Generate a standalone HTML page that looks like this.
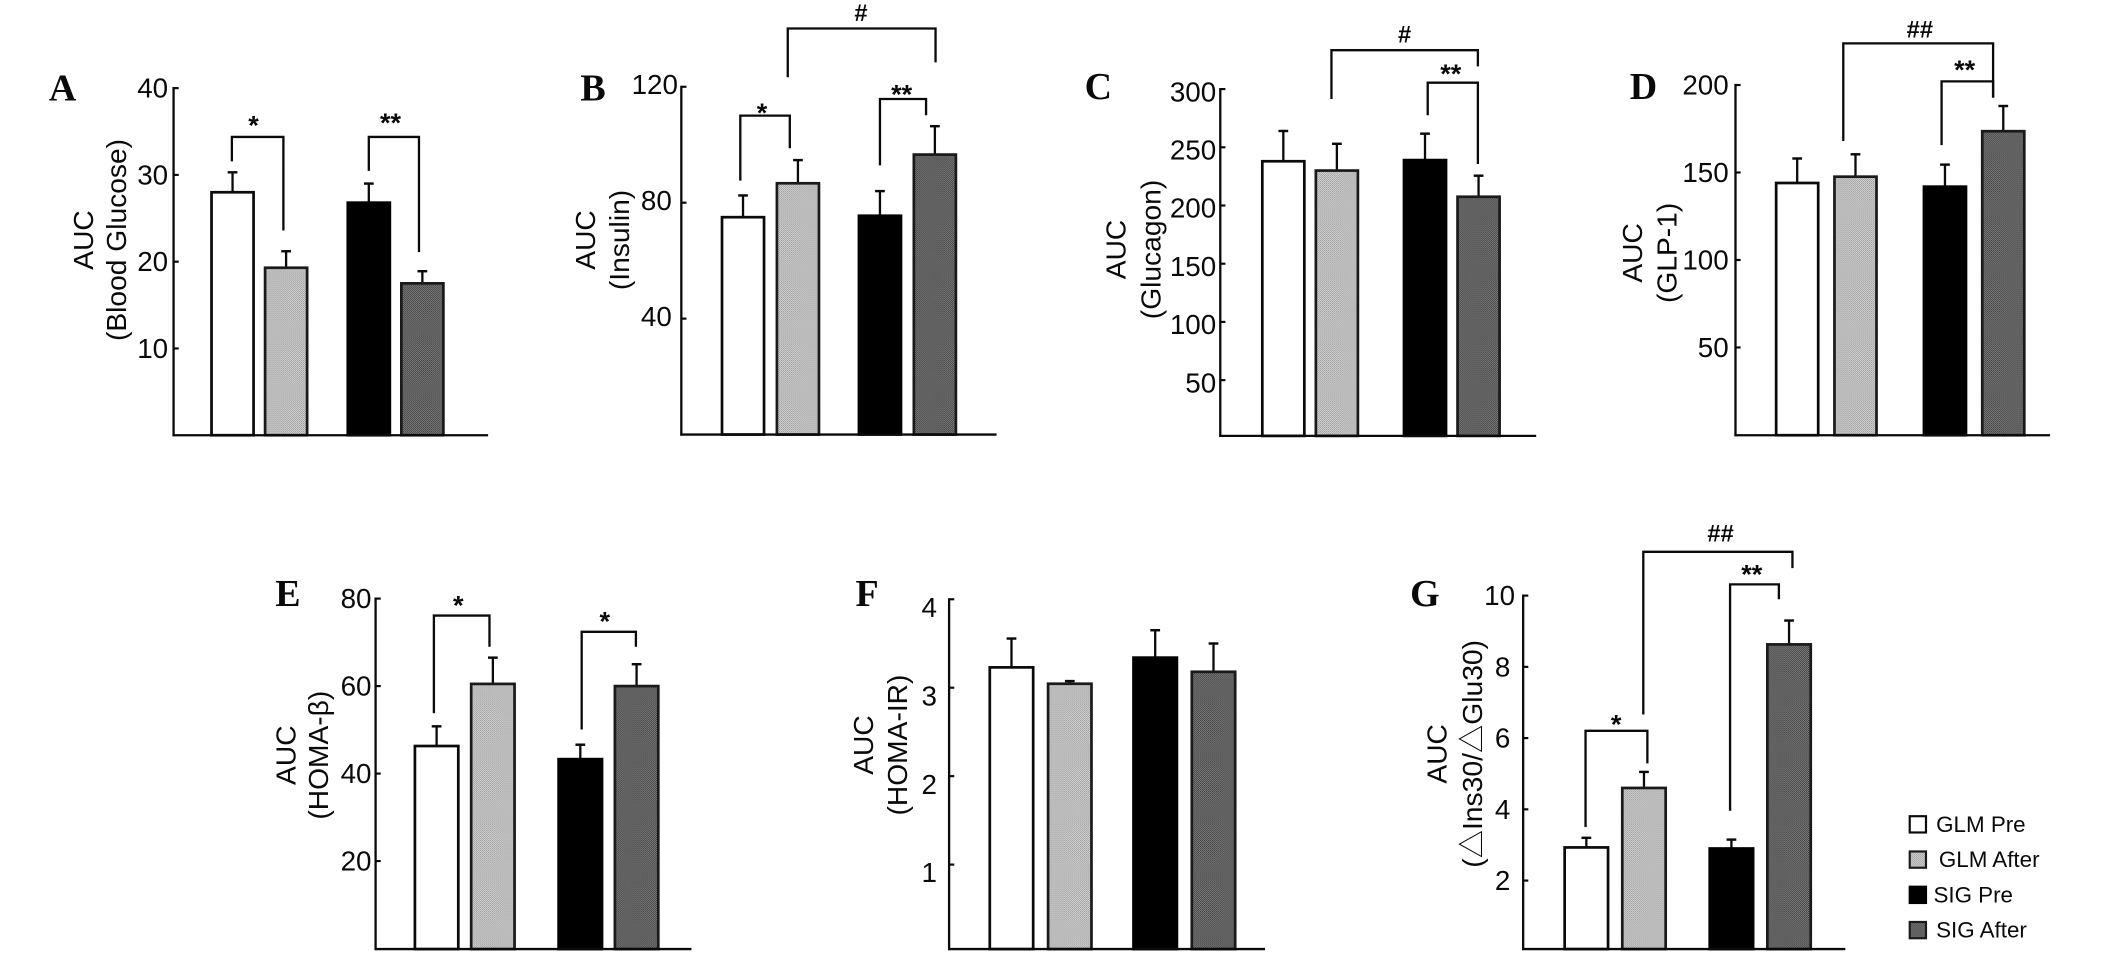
<!DOCTYPE html>
<html lang="en">
<head>
<meta charset="utf-8">
<title>AUC bar charts, panels A to G</title>
<style>
html,body{margin:0;padding:0;background:#fff;}
#figure{display:block;width:2126px;height:964px;background:#fff;}
text{font-family:"Liberation Sans","Noto Sans CJK SC",sans-serif;fill:#0a0a0a;}
.letter{font-family:"Liberation Serif",serif;font-weight:bold;font-size:28px;}
.tick-label{font-size:20.5px;text-anchor:end;dominant-baseline:central;}
.axis-title{font-size:20.8px;text-anchor:middle;}
.sig{font-family:"Liberation Sans",sans-serif;font-weight:bold;font-size:20px;text-anchor:middle;}
.sig-hash{font-family:"Liberation Sans",sans-serif;font-weight:bold;font-size:17.5px;text-anchor:middle;}
.legend-text{font-size:16.5px;dominant-baseline:central;}
</style>
</head>
<body>
<svg id="figure" xmlns="http://www.w3.org/2000/svg" width="2126" height="964" viewBox="0 0 1568 711">
  <defs>
    <pattern id="light-fill" patternUnits="userSpaceOnUse" width="1.5" height="1.5">
      <rect width="1.5" height="1.5" fill="#dcdcdc"/>
      <rect width="0.75" height="0.75" fill="#939393"/>
      <rect x="0.75" y="0.75" width="0.75" height="0.75" fill="#a0a0a0"/>
    </pattern>
    <pattern id="dark-fill" patternUnits="userSpaceOnUse" width="1.5" height="1.5">
      <rect width="1.5" height="1.5" fill="#8a8a8a"/>
      <rect width="0.75" height="0.75" fill="#333"/>
      <rect x="0.75" y="0.75" width="0.75" height="0.75" fill="#3d3d3d"/>
    </pattern>
  </defs>
</svg>
<script>
// Shared categories
const categories = ['GLM Pre', 'GLM After', 'SIG Pre', 'SIG After'];

// Panel A: Blood Glucose
const ticksA = [10, 20, 30, 40];
const valuesA = [28, 19.3, 26.8, 17.5];
const errorTopsA = [30.3, 21.2, 29, 18.9];

// Panel B: Insulin
const ticksB = [40, 80, 120];
const valuesB = [75, 86.7, 75.5, 96.6];
const errorTopsB = [82.5, 94.7, 84, 106.4];

// Panel C: Glucagon
const ticksC = [50, 100, 150, 200, 250, 300];
const valuesC = [238, 230, 239, 207.5];
const errorTopsC = [264, 253, 261.7, 225.6];

// Panel D: GLP-1
const ticksD = [50, 100, 150, 200];
const valuesD = [144, 147.6, 141.9, 173.6];
const errorTopsD = [158, 160.4, 154.5, 188];

// Panel E: HOMA-beta
const ticksE = [20, 40, 60, 80];
const valuesE = [46.3, 60.5, 43.3, 60];
const errorTopsE = [50.8, 66.5, 46.6, 65];

// Panel F: HOMA-IR
const ticksF = [1, 2, 3, 4];
const valuesF = [3.23, 3.045, 3.34, 3.18];
const errorTopsF = [3.556, 3.075, 3.65, 3.5];

// Panel G: Ins30/Glu30
const ticksG = [2, 4, 6, 8, 10];
const valuesG = [2.93, 4.6, 2.9, 8.63];
const errorTopsG = [3.2, 5.05, 3.15, 9.3];

const NS = 'http://www.w3.org/2000/svg';
const svg = document.getElementById('figure');

function make(tag, attrs, parent) {
  const el = document.createElementNS(NS, tag);
  for (const k in attrs) el.setAttribute(k, attrs[k]);
  (parent || svg).appendChild(el);
  return el;
}

const barStyles = [
  {fill: '#fff', stroke: '#0a0a0a'},
  {fill: 'url(#light-fill)', stroke: '#1a1a1a'},
  {fill: '#000', stroke: '#000'},
  {fill: 'url(#dark-fill)', stroke: '#1a1a1a'}
];

function slug(s) {
  return s.toLowerCase().replace(/ /g, '-');
}

function drawPanel(p) {
  const g = make('g', {});
  
  

  const topTick = p.ticks[p.ticks.length - 1];
  const yScale = function (v) { return p.yZero - v * (p.yZero - p.yTop) / topTick; };
  const barLeft = function (i) { return p.x0 + (i % 2) * p.pairStep + Math.floor(i / 2) * p.groupStep; };

  // bars and error bars
  p.values.forEach(function (v, i) {
    const style = barStyles[i];
    const left = barLeft(i);
    const cx = left + p.barW / 2;
    const top = yScale(v);
    const errTop = yScale(p.errorTops[i]);

    const stem = make('line', {x1: cx, x2: cx, y1: top, y2: errTop, stroke: '#0a0a0a', 'stroke-width': 1.7}, g);
    
    

    const cap = make('line', {x1: cx - 3.6, x2: cx + 3.6, y1: errTop, y2: errTop, stroke: '#0a0a0a', 'stroke-width': 1.8}, g);
    
    

    const bar = make('rect', {x: left, y: top, width: p.barW, height: p.base - top, fill: style.fill, stroke: style.stroke, 'stroke-width': 2}, g);
    
    
  });

  // axes
  const yAxis = make('line', {x1: p.axisX, x2: p.axisX, y1: yScale(topTick) - 0.8, y2: p.base + 0.8, stroke: '#0a0a0a', 'stroke-width': 1.7}, g);
  
  

  const xAxis = make('line', {x1: p.axisX - 0.8, x2: p.axisEnd, y1: p.base, y2: p.base, stroke: '#0a0a0a', 'stroke-width': 1.7}, g);
  
  

  p.ticks.forEach(function (t) {
    const y = yScale(t);
    const tick = make('line', {x1: p.axisX, x2: p.axisX + 3.8, y1: y, y2: y, stroke: '#0a0a0a', 'stroke-width': 1.6}, g);
    
    

    const shift = (p.labelShift && p.labelShift[t]) || 0;
    const label = make('text', {x: p.axisX - p.labelGap + shift, y: y + p.labelDy, class: 'tick-label'}, g);
    
    
    label.textContent = t;
  });

  // panel letter
  const letter = make('text', {x: p.letterX, y: p.letterY, class: 'letter'}, g);
  
  
  letter.textContent = p.letter;

  // axis titles
  const t1 = make('text', {transform: 'translate(' + p.titleX1 + ',' + p.titleCy + ') rotate(-90)', class: 'axis-title'}, g);
  
  
  t1.textContent = 'AUC';

  const t2 = make('text', {transform: 'translate(' + p.titleX2 + ',' + p.titleCy + ') rotate(-90)', class: 'axis-title'}, g);
  
  
  if (p.titleLength) {
    t2.setAttribute('textLength', p.titleLength);
    t2.setAttribute('lengthAdjust', 'spacingAndGlyphs');
  }
  t2.textContent = p.subtitle;

  // significance brackets
  p.brackets.forEach(function (b, i) {
    const path = make('path', {
      d: 'M' + b.xl + ' ' + b.yl + 'V' + b.top + 'H' + b.xr + 'V' + b.yr,
      fill: 'none', stroke: '#0a0a0a', 'stroke-width': 1.7
    }, g);
    
    

    const mark = make('text', {x: b.lx, y: b.ly, class: b.text.charAt(0) === '#' ? 'sig-hash' : 'sig'}, g);
    
    
    mark.textContent = b.text;
  });
}

drawPanel({id: 'a', letter: 'A', letterX: 36, letterY: 74, subtitle: '(Blood Glucose)',
  ticks: ticksA, values: valuesA, errorTops: errorTopsA,
  axisX: 128, axisEnd: 360, base: 321, yZero: 321, yTop: 65, labelGap: 4, labelDy: 0,
  x0: 156, pairStep: 39.5, groupStep: 100.5, barW: 31,
  titleX1: 68.5, titleX2: 93, titleCy: 177,
  brackets: [
    {xl: 171, xr: 209, top: 101, yl: 119, yr: 170, lx: 187, ly: 99.2, text: '*'},
    {xl: 272, xr: 309, top: 101, yl: 126, yr: 186, lx: 288, ly: 97.2, text: '**'}
  ]});

drawPanel({id: 'b', letter: 'B', letterX: 428, letterY: 74, subtitle: '(Insulin)',
  ticks: ticksB, values: valuesB, errorTops: errorTopsB, labelShift: {120: 2.5, 80: -2, 40: -2},
  axisX: 502.5, axisEnd: 735, base: 320.5, yZero: 320.5, yTop: 64, labelGap: 5, labelDy: -1.5,
  x0: 532.5, pairStep: 40.5, groupStep: 101, barW: 31,
  titleX1: 439, titleX2: 464, titleCy: 177,
  brackets: [
    {xl: 546, xr: 582.5, top: 85.3, yl: 133.2, yr: 109.3, lx: 562, ly: 90, text: '*'},
    {xl: 649, xr: 683, top: 73, yl: 122, yr: 85, lx: 665, ly: 76.2, text: '**'},
    {xl: 581, xr: 690, top: 21, yl: 57, yr: 46, lx: 635, ly: 15.5, text: '#'}
  ]});

drawPanel({id: 'c', letter: 'C', letterX: 800, letterY: 73, subtitle: '(Glucagon)',
  ticks: ticksC, values: valuesC, errorTops: errorTopsC,
  axisX: 900, axisEnd: 1133, base: 321.5, yZero: 323.3, yTop: 65.7, labelGap: 3, labelDy: 2,
  x0: 931, pairStep: 39.5, groupStep: 104.5, barW: 31,
  titleX1: 830, titleX2: 856, titleCy: 184,
  brackets: [
    {xl: 982, xr: 1090, top: 37, yl: 73, yr: 49, lx: 1036, ly: 31.5, text: '#'},
    {xl: 1053, xr: 1090, top: 61, yl: 85, yr: 121, lx: 1070, ly: 61.2, text: '**'}
  ]});

drawPanel({id: 'd', letter: 'D', letterX: 1202, letterY: 73, subtitle: '(GLP-1)',
  ticks: ticksD, values: valuesD, errorTops: errorTopsD,
  axisX: 1280, axisEnd: 1512, base: 321, yZero: 320.8, yTop: 62.7, labelGap: 5, labelDy: 0,
  x0: 1310, pairStep: 43, groupStep: 109, barW: 31,
  titleX1: 1211, titleX2: 1236.5, titleCy: 186.5,
  brackets: [
    {xl: 1359.5, xr: 1470, top: 32, yl: 104, yr: 72, lx: 1416, ly: 27.5, text: '##'},
    {xl: 1432, xr: 1470, top: 60, yl: 107, yr: 72, lx: 1449, ly: 58.2, text: '**'}
  ]});

drawPanel({id: 'e', letter: 'E', letterX: 203, letterY: 447, subtitle: '(HOMA-\u03B2)',
  ticks: ticksE, values: valuesE, errorTops: errorTopsE,
  axisX: 277, axisEnd: 510, base: 700, yZero: 699.6, yTop: 441.5, labelGap: 3, labelDy: 0,
  x0: 306, pairStep: 41.5, groupStep: 106, barW: 32,
  titleX1: 218, titleX2: 242, titleCy: 557,
  brackets: [
    {xl: 320, xr: 361, top: 454, yl: 526, yr: 477, lx: 338, ly: 453.2, text: '*'},
    {xl: 429, xr: 469, top: 466, yl: 538, yr: 477, lx: 446, ly: 465.2, text: '*'}
  ]});

drawPanel({id: 'f', letter: 'F', letterX: 631, letterY: 447, subtitle: '(HOMA-IR)',
  ticks: ticksF, values: valuesF, errorTops: errorTopsF,
  axisX: 700, axisEnd: 933, base: 700, yZero: 702.9, yTop: 442, labelGap: 9, labelDy: 6,
  x0: 730, pairStep: 43, groupStep: 106, barW: 32,
  titleX1: 644, titleX2: 669, titleCy: 549.5,
  brackets: []});

drawPanel({id: 'g', letter: 'G', letterX: 1040, letterY: 447, subtitle: '(\u25B3Ins30/\u25B3Glu30)', titleLength: 168,
  ticks: ticksG, values: valuesG, errorTops: errorTopsG, labelShift: {10: 3.5},
  axisX: 1123.4, axisEnd: 1361, base: 700, yZero: 702, yTop: 439.3, labelGap: 9.5, labelDy: 0,
  x0: 1154, pairStep: 42.5, groupStep: 107, barW: 32,
  titleX1: 1067, titleX2: 1093, titleCy: 556,
  brackets: [
    {xl: 1169.4, xr: 1215, top: 539, yl: 610, yr: 563, lx: 1192, ly: 540.9, text: '*'},
    {xl: 1212, xr: 1322, top: 407, yl: 527, yr: 419, lx: 1269, ly: 399.5, text: '##'},
    {xl: 1276, xr: 1312, top: 431, yl: 598, yr: 442, lx: 1292, ly: 430.2, text: '**'}
  ]});

// Legend
const legendRows = [608, 634, 660, 686];
const legendTextX = [1428, 1430, 1426, 1428];
const legend = make('g', {});


categories.forEach(function (c, i) {
  const style = barStyles[i];
  const box = make('rect', {x: 1408.5, y: legendRows[i] - 6, width: 12, height: 12, fill: style.fill, stroke: style.stroke, 'stroke-width': 1.6}, legend);
  
  

  const label = make('text', {x: legendTextX[i], y: legendRows[i], class: 'legend-text'}, legend);
  
  
  label.textContent = c;
});
</script>
</body>
</html>
